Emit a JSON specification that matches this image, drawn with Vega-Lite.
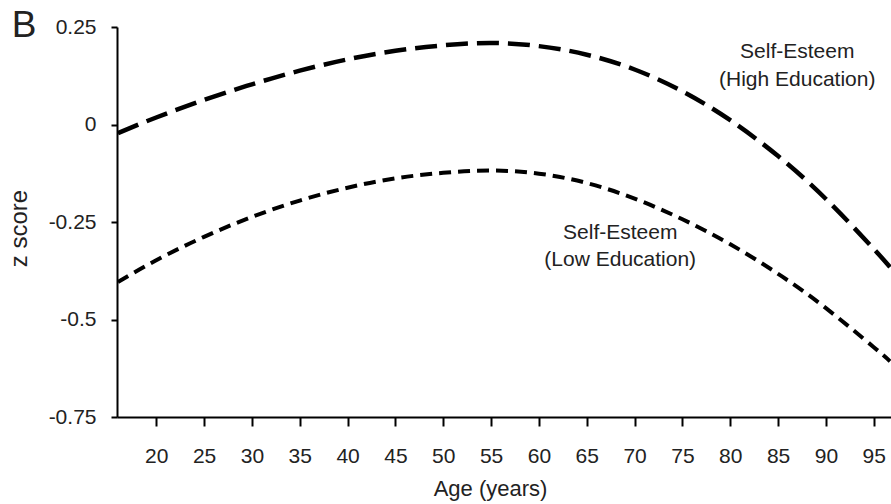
{
  "$schema": "https://vega.github.io/schema/vega-lite/v6.json",
  "width": 774,
  "height": 390,
  "autosize": {"type": "none"},
  "padding": {"left": 117, "top": 27, "right": 0, "bottom": 87},
  "background": "white",
  "config": {"view": {"stroke": null}, "font": "Liberation Sans"},
  "datasets": {
    "high": [
      {"age": 16, "z": -0.022}, {"age": 20, "z": 0.018}, {"age": 25, "z": 0.063}, {"age": 30, "z": 0.103},
      {"age": 35, "z": 0.138}, {"age": 40, "z": 0.167}, {"age": 45, "z": 0.189}, {"age": 50, "z": 0.203},
      {"age": 55, "z": 0.209}, {"age": 60, "z": 0.201}, {"age": 65, "z": 0.179}, {"age": 70, "z": 0.141},
      {"age": 75, "z": 0.085}, {"age": 80, "z": 0.011}, {"age": 85, "z": -0.081}, {"age": 90, "z": -0.191},
      {"age": 95, "z": -0.319}, {"age": 96.7, "z": -0.366}
    ],
    "low": [
      {"age": 16, "z": -0.404}, {"age": 20, "z": -0.348}, {"age": 25, "z": -0.288}, {"age": 30, "z": -0.237},
      {"age": 35, "z": -0.195}, {"age": 40, "z": -0.162}, {"age": 45, "z": -0.138}, {"age": 50, "z": -0.124},
      {"age": 55, "z": -0.118}, {"age": 60, "z": -0.126}, {"age": 65, "z": -0.15}, {"age": 70, "z": -0.19},
      {"age": 75, "z": -0.243}, {"age": 80, "z": -0.307}, {"age": 85, "z": -0.383}, {"age": 90, "z": -0.471},
      {"age": 95, "z": -0.571}, {"age": 96.7, "z": -0.607}
    ],
    "labels": [
      {"age": 87.0, "z": 0.185, "label": "Self-Esteem"},
      {"age": 87.0, "z": 0.114, "label": "(High Education)"},
      {"age": 68.5, "z": -0.277, "label": "Self-Esteem"},
      {"age": 68.5, "z": -0.347, "label": "(Low Education)"}
    ],
    "panel": [
      {"age": 6.2, "z": 0.2244, "label": "B"}
    ]
  },
  "encoding": {
    "x": {
      "field": "age", "type": "quantitative",
      "scale": {"domain": [15.9, 96.8], "nice": false, "zero": false},
      "axis": {
        "values": [20, 25, 30, 35, 40, 45, 50, 55, 60, 65, 70, 75, 80, 85, 90, 95],
        "title": "Age (years)", "grid": false, "labelFlush": false,
        "domainColor": "black", "domainWidth": 2, "tickColor": "black", "tickWidth": 2, "tickSize": 9,
        "labelFontSize": 21, "labelColor": "#222222", "labelBaseline": "alphabetic", "labelPadding": 36,
        "titleFontSize": 22, "titleFontWeight": "normal", "titleColor": "#222222",
        "titleX": 373, "titleY": 78, "titleBaseline": "alphabetic"
      }
    },
    "y": {
      "field": "z", "type": "quantitative",
      "scale": {"domain": [-0.75, 0.25], "nice": false, "zero": false},
      "axis": {
        "values": [-0.75, -0.5, -0.25, 0, 0.25],
        "labelExpr": "toString(datum.value)",
        "title": "z score", "grid": false,
        "domainColor": "black", "domainWidth": 2, "tickColor": "black", "tickWidth": 2, "tickSize": 6,
        "labelFontSize": 21, "labelColor": "#222222", "labelPadding": 15,
        "titleFontSize": 24, "titleFontWeight": "normal", "titleColor": "#222222",
        "titleX": -91, "titleY": 201, "titleBaseline": "alphabetic"
      }
    }
  },
  "layer": [
    {
      "data": {"name": "high"},
      "mark": {"type": "line", "color": "black", "strokeWidth": 4.5, "strokeDash": [22, 9], "interpolate": "natural", "strokeCap": "butt"}
    },
    {
      "data": {"name": "low"},
      "mark": {"type": "line", "color": "black", "strokeWidth": 4, "strokeDash": [12, 7], "interpolate": "natural", "strokeCap": "butt"}
    },
    {
      "data": {"name": "labels"},
      "mark": {"type": "text", "fontSize": 21, "color": "#222222", "align": "center", "baseline": "middle"},
      "encoding": {"text": {"field": "label", "type": "nominal"}}
    },
    {
      "data": {"name": "panel"},
      "mark": {"type": "text", "fontSize": 37, "color": "#222222", "align": "center", "baseline": "alphabetic", "clip": false},
      "encoding": {"text": {"field": "label", "type": "nominal"}}
    }
  ]
}
